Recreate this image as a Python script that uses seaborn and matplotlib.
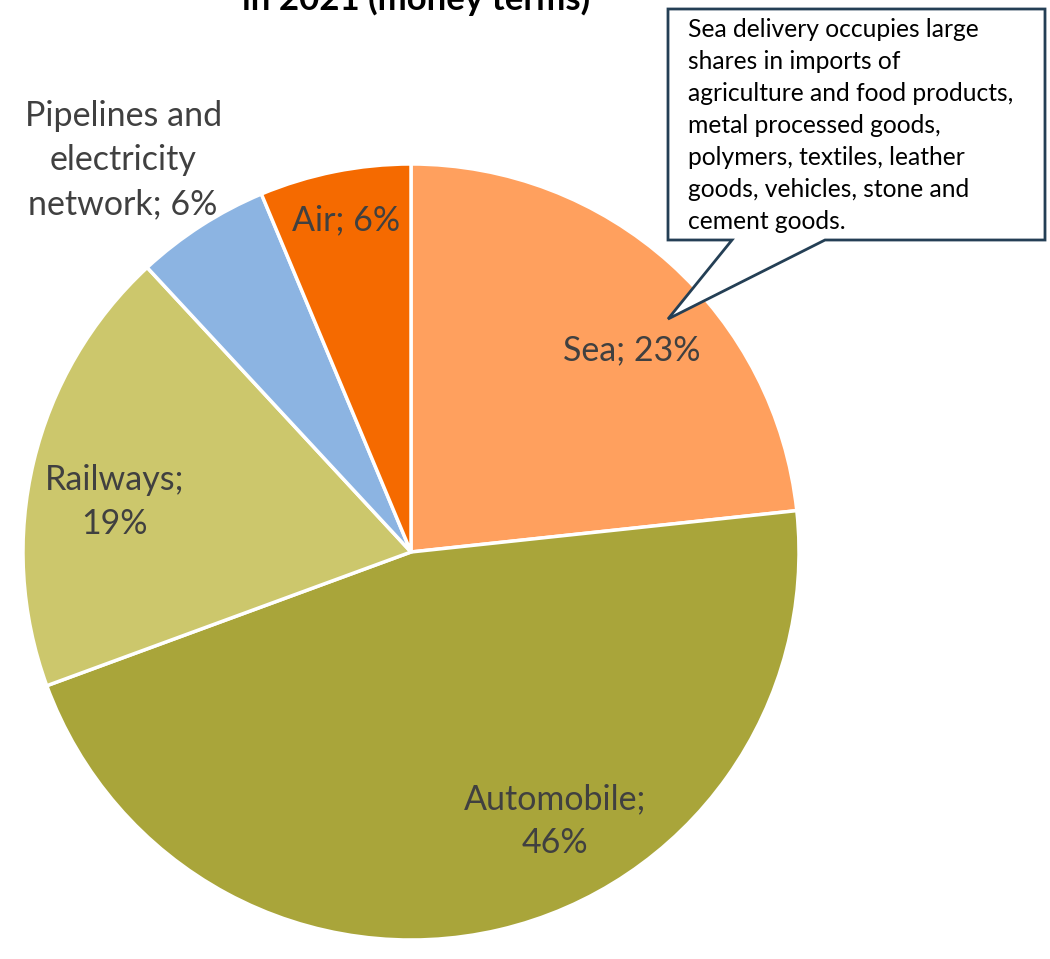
import matplotlib
matplotlib.use("Agg")
import matplotlib.pyplot as plt
import seaborn as sns
import numpy as np
from matplotlib.patches import Polygon

sns.set_theme(style="white")
plt.rcParams['font.family'] = ['Lato', 'DejaVu Sans']

# Data
categories = ["Sea", "Automobile", "Railways", "Pipelines and electricity network", "Air"]
shares = [23.3, 46.1, 18.7, 5.6, 6.3]
pct_labels = ["23%", "46%", "19%", "6%", "6%"]
label_texts = ["Sea; 23%", "Automobile;\n46%", "Railways;\n19%",
               "Pipelines and\nelectricity\nnetwork; 6%", "Air; 6%"]
colors = ["#FFA05E", "#A9A53A", "#CCC76C", "#8CB4E2", "#F56A00"]
title_text = "in 2021 (money terms)"
callout_text = ("Sea delivery occupies large\nshares in imports of\n"
                "agriculture and food products,\nmetal processed goods,\n"
                "polymers, textiles, leather\ngoods, vehicles, stone and\n"
                "cement goods.")

W, H = 1050, 959
fig = plt.figure(figsize=(W / 100, H / 100), dpi=100)
fig.patch.set_facecolor("white")

# pie axes: center (411,552) px, radius 388 px
cx, cy, r = 411, 552, 388
ax = fig.add_axes([(cx - r) / W, (H - cy - r) / H, 2 * r / W, 2 * r / H])
ax.pie(shares, colors=colors, startangle=90, counterclock=False,
       wedgeprops=dict(edgecolor="white", linewidth=2.5), radius=1.0)
ax.set_xlim(-1, 1)
ax.set_ylim(-1, 1)
ax.set_aspect("auto")
ax.axis("off")

# label positions (layout, in axes data coords)
label_pos = [(0.570, 0.521), (0.371, -0.693), (-0.763, 0.129),
             (-0.742, 1.010), (-0.168, 0.856)]
for txt, (x, y) in zip(label_texts, label_pos):
    ax.text(x, y, txt, ha="center", va="center", fontsize=24.5,
            color="#404040", linespacing=1.45, clip_on=False)

# Title (clipped at top, as in the reference)
fig.text(416 / W, 1 - 10 / H, title_text, ha="center", va="baseline",
         fontsize=25, fontweight="bold", color="black")

# Callout box with pointer
box_l, box_t, box_r, box_b = 668, 9, 1045, 240
tip = (668, 319)
p1, p2 = 732, 825


def fx(px):
    return px / W


def fy(py):
    return 1 - py / H


verts = [(fx(box_l), fy(box_t)), (fx(box_r), fy(box_t)), (fx(box_r), fy(box_b)),
         (fx(p2), fy(box_b)), (fx(tip[0]), fy(tip[1])), (fx(p1), fy(box_b)),
         (fx(box_l), fy(box_b))]
poly = Polygon(verts, closed=True, facecolor="white", edgecolor="#243F55",
               linewidth=2, transform=fig.transFigure, zorder=5)
fig.patches.append(poly)
fig.text(fx(688), fy(18), callout_text, ha="left", va="top", fontsize=17.7,
         color="black", linespacing=1.47, zorder=6)

fig.savefig("out.png", dpi=100, facecolor="white")
